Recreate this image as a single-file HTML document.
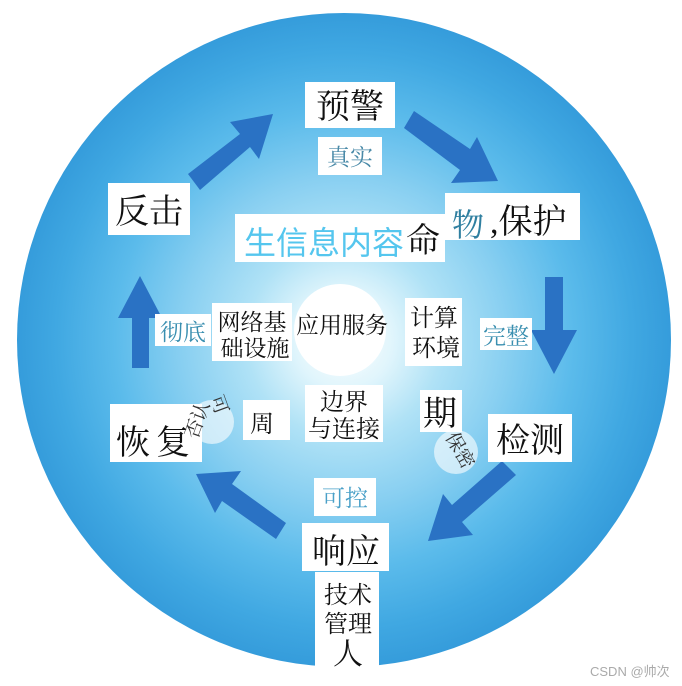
<!DOCTYPE html>
<html><head><meta charset="utf-8"><style>
html,body{margin:0;padding:0;background:#fff}
svg{display:block}
text{font-family:"Liberation Serif","Noto Serif CJK SC",serif}
.s{font-family:"Liberation Sans","Noto Sans CJK SC",sans-serif}
</style></head><body>
<svg width="682" height="686" viewBox="0 0 682 686" xmlns="http://www.w3.org/2000/svg">
<defs>
<radialGradient id="g" cx="344" cy="340" r="327" gradientUnits="userSpaceOnUse">
<stop offset="0" stop-color="#ffffff"/>
<stop offset="0.15" stop-color="#e0f5fc"/>
<stop offset="0.3" stop-color="#b0e2f6"/>
<stop offset="0.5" stop-color="#88cff1"/>
<stop offset="0.7" stop-color="#5bbbeb"/>
<stop offset="0.88" stop-color="#40a8e2"/>
<stop offset="1" stop-color="#359cdb"/>
</radialGradient>
</defs>
<circle cx="344" cy="340" r="327" fill="url(#g)"/>
<circle cx="340" cy="330" r="46" fill="#fff"/>
<g fill="#2a72c4">
<polygon points="188,174 200,190 250,147 259,159 273,114 230,122 240,134"/>
<polygon points="404,128 414,111 470,149 477,137 498,181 451,183 460,170"/>
<polygon points="545,277 563,277 563,330 577,330 554,374 531,330 545,330"/>
<polygon points="516,475 502,461 452,505 443,494 428,541 473,535 462,522"/>
<polygon points="286,523 276,539 222,501 215,513 196,474 241,471 232,484"/>
<polygon points="132,368 149,368 149,318 162,318 140,276 118,318 132,318"/>
</g>
<g fill="#fff">
<rect x="305" y="82" width="90" height="46"/>
<rect x="318" y="137" width="64" height="38"/>
<rect x="108" y="183" width="82" height="52"/>
<rect x="235" y="214" width="210" height="48"/>
<rect x="445" y="193" width="135" height="47"/>
<rect x="155" y="314" width="56" height="32"/>
<rect x="212" y="303" width="80" height="58"/>
<rect x="405" y="298" width="57" height="68"/>
<rect x="480" y="318" width="52" height="32"/>
<rect x="305" y="385" width="78" height="57"/>
<rect x="243" y="400" width="47" height="40"/>
<rect x="420" y="390" width="42" height="42"/>
<rect x="110" y="404" width="92" height="58"/>
<rect x="488" y="414" width="84" height="48"/>
<rect x="314" y="478" width="62" height="38"/>
<rect x="302" y="523" width="87" height="48"/>
<rect x="315" y="572" width="64" height="96"/>
<circle cx="212" cy="422" r="22" opacity="0.6"/>
<circle cx="456" cy="452" r="22" opacity="0.6"/>
</g>
<g fill="#111" font-size="34">
<text x="350" y="118" text-anchor="middle">预警</text>
<text x="149" y="223" text-anchor="middle">反击</text>
<text x="406" y="252">命</text>
<text x="490" y="233">,保护</text>
<text x="156" y="454" text-anchor="middle" letter-spacing="6">恢复</text>
<text x="530" y="452" text-anchor="middle">检测</text>
<text x="346" y="563" text-anchor="middle">响应</text>
<text x="440" y="425" text-anchor="middle">期</text>
</g>
<g fill="#111" font-size="24">
<text x="252" y="330" text-anchor="middle" font-size="23">网络基</text>
<text x="255" y="356" text-anchor="middle" font-size="23">础设施</text>
<text x="342" y="333" text-anchor="middle" font-size="23">应用服务</text>
<text x="434" y="326" text-anchor="middle">计算</text>
<text x="436" y="356" text-anchor="middle">环境</text>
<text x="344" y="410" text-anchor="middle">边界</text>
<text x="344" y="437" text-anchor="middle">与连接</text>
<text x="262" y="432" text-anchor="middle">周</text>
<text x="348" y="603" text-anchor="middle">技术</text>
<text x="348" y="632" text-anchor="middle">管理</text>
<text x="348" y="664" text-anchor="middle" font-size="30">人</text>
</g>
<g fill="#3a8fb0" font-size="23" class="s">
<text x="350" y="165" text-anchor="middle" fill="#4a8aa8">真实</text>
<text x="183" y="340" text-anchor="middle">彻底</text>
<text x="506" y="344" text-anchor="middle">完整</text>
<text x="345" y="506" text-anchor="middle" fill="#4aa0c8">可控</text>
</g>
<text x="244" y="254" fill="#55c6ee" font-size="32" class="s">生信息内容</text>
<text x="452" y="236" fill="#2f7fa0" font-size="32">物</text>
<g fill="#333" font-size="19" class="s">
<text transform="translate(210,398) rotate(70)">可</text>
<text transform="translate(197,440) rotate(-70)">否认</text>
<text transform="translate(445,437) rotate(60)">保密</text>
</g>
<text x="590" y="676" fill="#aaa" font-size="13" class="s">CSDN @帅次</text>
</svg>
</body></html>
